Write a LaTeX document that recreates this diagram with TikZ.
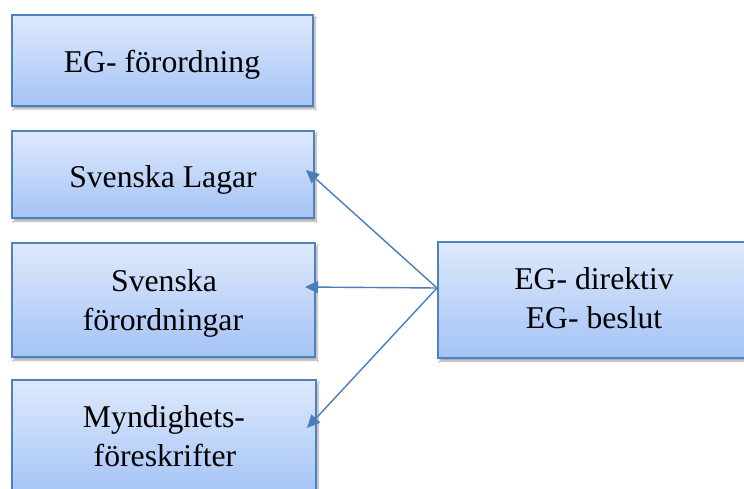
\documentclass[tikz,border=0pt]{standalone}
\usepackage{fontspec}
\setmainfont{Liberation Serif}
\usetikzlibrary{arrows.meta,shadows.blur}
\definecolor{boxtop}{RGB}{222,233,252}
\definecolor{boxbot}{RGB}{164,195,246}
\definecolor{boxline}{RGB}{79,129,189}
\definecolor{arrowc}{RGB}{74,126,187}
\tikzset{
  box/.style={rectangle, draw=boxline, line width=1.6pt, top color=boxtop, bottom color=boxbot,
    inner sep=0pt,
    blur shadow={shadow xshift=2pt, shadow yshift=-3pt, shadow opacity=35, shadow blur steps=6}},
  lbl/.style={anchor=base, inner sep=0pt, font=\fontsize{31.7}{38}\selectfont},
  conn/.style={draw=arrowc, line width=1.4pt, -{Triangle[length=13pt,width=12pt]}}
}
\begin{document}
\begin{tikzpicture}[x=1pt,y=-1pt]
\useasboundingbox (0,0) rectangle (744,489);
\clip (0,0) rectangle (744,489);
\fill[white] (0,0) rectangle (744,489);
\node[box, minimum width=301pt, minimum height=91pt] (b1) at (162.5,60.5) {};
\node[box, minimum width=302pt, minimum height=87pt] (b2) at (163,174.5) {};
\node[box, minimum width=303pt, minimum height=114pt] (b3) at (163.5,300) {};
\node[box, minimum width=304pt, minimum height=116pt] (b4) at (164,438) {};
\node[box, minimum width=312pt, minimum height=116pt] (r) at (594,300) {};
\node[lbl] (t1) at (162,73) {EG- förordning};
\node[lbl] (t2) at (163,188) {Svenska Lagar};
\node[lbl] (t3a) at (164,291) {Svenska};
\node[lbl] (t3b) at (163,330) {förordningar};
\node[lbl] (t4a) at (164,427) {Myndighets-};
\node[lbl] (t4b) at (165,466) {föreskrifter};
\node[lbl] (tra) at (594,289) {EG- direktiv};
\node[lbl] (trb) at (594,328) {EG- beslut};
\coordinate (src) at (437,288);
\coordinate (p2) at (306,170);
\coordinate (p3) at (305,287);
\coordinate (p4) at (307,428);
\draw[conn] (src) -- (p2);
\draw[conn] (src) -- (p3);
\draw[conn] (src) -- (p4);
\end{tikzpicture}
\end{document}
